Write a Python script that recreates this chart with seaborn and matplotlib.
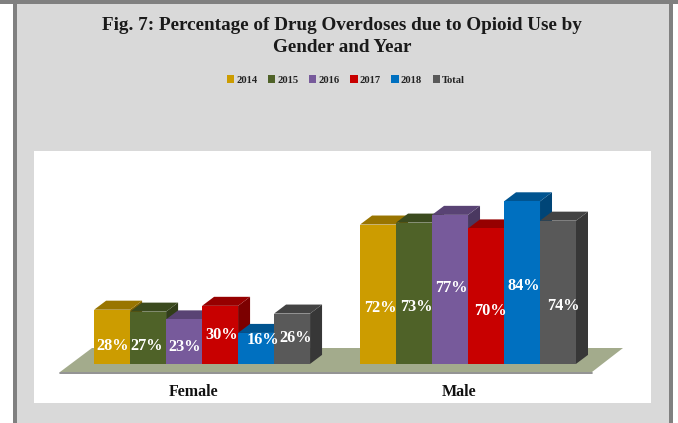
import colorsys

import matplotlib.colors as mcolors
import matplotlib.pyplot as plt
import matplotlib.transforms as mtrans
import pandas as pd
import seaborn as sns
from matplotlib.patches import Polygon, Rectangle

W, H = 678, 423

genders = ["Female", "Male"]
years = ["2014", "2015", "2016", "2017", "2018", "Total"]
female = [28, 27, 23, 30, 16, 26]
male = [72, 73, 77, 70, 84, 74]
colors = ["#CC9C00", "#4F6228", "#775A9B", "#C80000", "#0070C0", "#595959"]

# where the labels sit, measured in px above the baseline / right of bar centre
label_up = [18, 18, 17, 29, 24, 26, 56, 57, 76, 53, 78, 58]
label_right = [1, -1, 1, 2, 7, 4, 2, 2, 1, 4, 2, 5]

df = pd.DataFrame({
    "gender": [g for g in genders for _ in years],
    "year": years * 2,
    "pct": female + male,
})

sns.set_theme(style="white")
plt.rcParams["font.family"] = ["Liberation Serif", "DejaVu Serif"]
plt.rcParams["font.weight"] = "bold"


def fx(x):
    return x / W


def fy(y):
    return 1 - y / H


def shade(color, factor):
    h, l, s = colorsys.rgb_to_hls(*mcolors.to_rgb(color))
    return colorsys.hls_to_rgb(h, l * factor, s)


fig = plt.figure(figsize=(W / 100, H / 100), dpi=100, facecolor="white")

# slide frame behind the chart
for (x0, y0, x1, y1, c) in [
    (0, 0, W, 4, "#808080"),
    (13, 0, 673, H, "#808080"),
    (17, 4, 669, H, "#D9D9D9"),
]:
    fig.add_artist(Rectangle((fx(x0), fy(y1)), (x1 - x0) / W, (y1 - y0) / H,
                             transform=fig.transFigure, fc=c, ec="none", zorder=-1))

# white plot panel, scaled so that 1% = 1.93 px and groups are 266 px apart
ax = fig.add_axes([fx(34), fy(403), 617 / W, 252 / H], facecolor="white")
sns.barplot(data=df, x="gender", y="pct", hue="year", order=genders,
            hue_order=years, palette=colors, saturation=1, width=0.812,
            gap=0, dodge=True, linewidth=0, ax=ax, zorder=5)
ax.set_xlabel("")
ax.set_ylabel("")
ax.set_yticks([])
sns.despine(ax=ax, left=True, bottom=True, top=True, right=True)

bars = sorted([p for p in ax.patches if isinstance(p, Rectangle) and p.get_height() > 0],
              key=lambda p: p.get_x())

# floor of the 3d box
floor = Polygon([(fx(60), fy(372)), (fx(592), fy(372)), (fx(623), fy(348)), (fx(92), fy(348))],
                transform=fig.transFigure, fc="#A3AB8C", ec="none", zorder=1)
ax.add_patch(floor)
ax.plot([fx(60), fx(592)], [fy(372.5), fy(372.5)], transform=fig.transFigure,
        color="#7F7F7F", lw=1.2, zorder=1.5)
ax.set_xlim(-0.632, 1.688)
ax.set_ylim(-20.2, 110)

# depth faces, left to right so the later bars cover the earlier walls
dx = 12 / 266
dy = 9 / 1.93
for i, bar in enumerate(bars):
    x0, x1 = bar.get_x(), bar.get_x() + bar.get_width()
    h = bar.get_height()
    c = bar.get_facecolor()
    top = [(x0, h), (x1, h), (x1 + dx, h + dy), (x0 + dx, h + dy)]
    side = [(x1, 0), (x1 + dx, dy), (x1 + dx, h + dy), (x1, h)]
    ax.add_patch(Polygon(side, fc=shade(c, 0.62), ec="none", zorder=2 + i * 0.1))
    ax.add_patch(Polygon(top, fc=shade(c, 0.75), ec="none", zorder=2 + i * 0.1))

    ax.annotate(f"{int(h)}%", xy=(bar.get_x() + bar.get_width() / 2, 0),
                xytext=(label_right[i] * 0.72, label_up[i] * 0.72),
                textcoords="offset points", ha="center", va="center",
                color="white", fontsize=11.8, fontweight="bold", zorder=6)

# category labels sit a little left of the group centre, inside the panel
ax.tick_params(axis="x", length=0, pad=-14, labelsize=11.5)
shift = mtrans.ScaledTranslation(-9 / 100, 0, fig.dpi_scale_trans)
for lab in ax.get_xticklabels():
    lab.set_fontweight("bold")
    lab.set_color("#111111")
    lab.set_transform(lab.get_transform() + shift)

handles, labels = ax.get_legend_handles_labels()
ax.legend_.remove()
fig.legend(handles, labels, loc="center", bbox_to_anchor=(fx(346), fy(80)), ncol=6,
           frameon=False, fontsize=7.6, handlelength=0.7, handleheight=0.7,
           handletextpad=0.2, columnspacing=1.0, labelcolor="#222222")

fig.text(fx(342), fy(26), "Fig. 7: Percentage of Drug Overdoses due to Opioid Use by",
         ha="center", va="center", fontsize=13.8, fontweight="bold", color="#1A1A1A")
fig.text(fx(342), fy(47), "Gender and Year",
         ha="center", va="center", fontsize=13.8, fontweight="bold", color="#1A1A1A")

fig.savefig("out.png", dpi=100)
